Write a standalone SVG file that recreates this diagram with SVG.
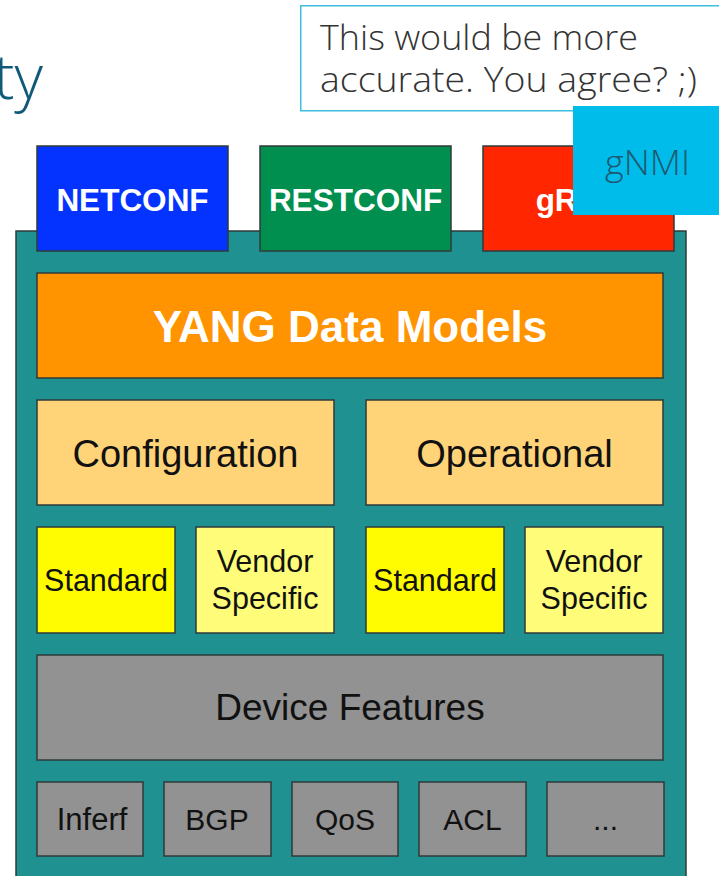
<svg xmlns="http://www.w3.org/2000/svg" width="719" height="876" viewBox="0 0 719 876">
  <style>
    .box { stroke: #2f3a3a; stroke-width: 1.5; }
    .lbl { font-family: "Liberation Sans", Arial, sans-serif; text-anchor: middle; fill: #111; }
    .bold { font-weight: bold; fill: #fff; }
    .thin { font-family: "Open Sans", "Liberation Sans", sans-serif; font-weight: 300; }
  </style>

  <rect width="719" height="876" fill="#ffffff"/>

  <!-- title fragment running off the left edge -->
  <text x="43" y="99" class="thin" font-size="62" fill="#0e5a78" text-anchor="end">ty</text>

  <!-- container -->
  <g id="stack">
    <rect x="16" y="231" width="670" height="660" fill="#1f9191" class="box"/>
  </g>

  <!-- protocol boxes -->
  <g id="netconf">
    <rect x="37" y="146" width="191" height="105" fill="#0433ff" class="box"/>
    <text x="132.5" y="211" class="lbl bold" font-size="31.5">NETCONF</text>
  </g>
  <g id="restconf">
    <rect x="260" y="146" width="191" height="105" fill="#008f4f" class="box"/>
    <text x="355.5" y="211" class="lbl bold" font-size="31.5">RESTCONF</text>
  </g>
  <g id="grpc">
    <rect x="483" y="146" width="191" height="105" fill="#ff2600" class="box"/>
    <text x="578.5" y="211" class="lbl bold" font-size="31.5">gRPC</text>
  </g>

  <!-- YANG layer -->
  <g id="yang">
    <rect x="37" y="273" width="626" height="105" fill="#ff9300" class="box"/>
    <text x="350" y="342" class="lbl bold" font-size="44">YANG Data Models</text>
  </g>

  <g id="configuration">
    <rect x="37" y="400" width="297" height="105" fill="#ffd479" class="box"/>
    <text x="185.5" y="467" class="lbl" font-size="38">Configuration</text>
  </g>
  <g id="operational">
    <rect x="366" y="400" width="297" height="105" fill="#ffd479" class="box"/>
    <text x="514.5" y="467" class="lbl" font-size="38">Operational</text>
  </g>

  <g id="config-standard">
    <rect x="37" y="527" width="138" height="106" fill="#fffb00" class="box"/>
    <text x="106" y="591" class="lbl" font-size="30.5">Standard</text>
  </g>
  <g id="config-vendor">
    <rect x="196" y="527" width="138" height="106" fill="#fffc79" class="box"/>
    <text x="265" y="572" class="lbl" font-size="30.5">Vendor</text>
    <text x="265" y="609" class="lbl" font-size="30.5">Specific</text>
  </g>
  <g id="oper-standard">
    <rect x="366" y="527" width="138" height="106" fill="#fffb00" class="box"/>
    <text x="435" y="591" class="lbl" font-size="30.5">Standard</text>
  </g>
  <g id="oper-vendor">
    <rect x="525" y="527" width="138" height="106" fill="#fffc79" class="box"/>
    <text x="594" y="572" class="lbl" font-size="30.5">Vendor</text>
    <text x="594" y="609" class="lbl" font-size="30.5">Specific</text>
  </g>

  <g id="device-features">
    <rect x="37" y="655" width="626" height="105" fill="#929292" class="box"/>
    <text x="350" y="720" class="lbl" font-size="37">Device Features</text>
  </g>

  <g id="feat-interf">
    <rect x="37" y="782" width="106" height="74" fill="#929292" class="box"/>
    <text x="92" y="830" class="lbl" font-size="31">Inferf</text>
  </g>
  <g id="feat-bgp">
    <rect x="164" y="782" width="107" height="74" fill="#929292" class="box"/>
    <text x="217" y="830" class="lbl" font-size="30">BGP</text>
  </g>
  <g id="feat-qos">
    <rect x="292" y="782" width="106" height="74" fill="#929292" class="box"/>
    <text x="345" y="830" class="lbl" font-size="30">QoS</text>
  </g>
  <g id="feat-acl">
    <rect x="419" y="782" width="107" height="74" fill="#929292" class="box"/>
    <text x="472.5" y="830" class="lbl" font-size="30">ACL</text>
  </g>
  <g id="feat-more">
    <rect x="547" y="782" width="117" height="74" fill="#929292" class="box"/>
    <text x="605.5" y="830" class="lbl" font-size="30">...</text>
  </g>

  <!-- callout note -->
  <g id="note">
    <rect x="300.75" y="5.75" width="425" height="105" fill="#ffffff" stroke="#3fbfe0" stroke-width="1.5"/>
    <text x="320" y="50" class="thin" font-size="34" fill="#333" textLength="318" lengthAdjust="spacingAndGlyphs">This would be more</text>
    <text x="320" y="92" class="thin" font-size="34" fill="#333" textLength="377" lengthAdjust="spacingAndGlyphs">accurate. You agree? ;)</text>
  </g>

  <g id="gnmi">
    <rect x="573" y="106" width="150" height="109" fill="#00bceb"/>
    <text x="647.5" y="175" class="thin" font-size="34" fill="#1d5a72" text-anchor="middle" textLength="85" lengthAdjust="spacingAndGlyphs">gNMI</text>
  </g>

  <g id="connectors"></g>
</svg>
